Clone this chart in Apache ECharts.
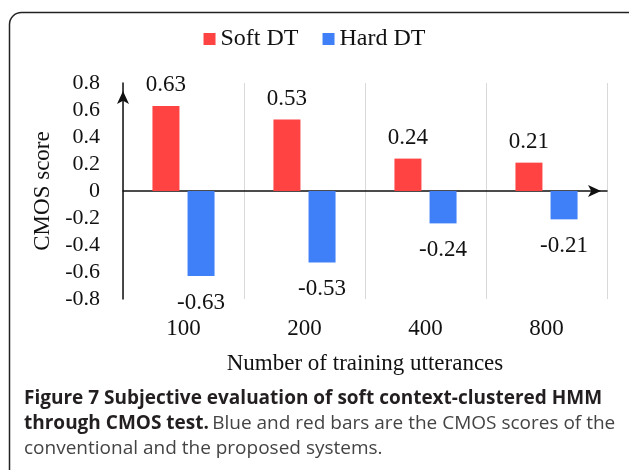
<!DOCTYPE html>
<html>
<head>
<meta charset="utf-8">
<script src="https://cdn.jsdelivr.net/npm/echarts@6/dist/echarts.min.js"></script>
<style>
  html, body { margin: 0; padding: 0; background: #fff; }
  #chart { width: 629px; height: 470px; }
</style>
</head>
<body>
<div id="chart"></div>
<script>
const categories = ['100', '200', '400', '800']
const softDT = [0.63, 0.53, 0.24, 0.21]
const hardDT = [-0.63, -0.53, -0.24, -0.21]
const captionLines = [
  'Figure 7 Subjective evaluation of soft context-clustered HMM',
  'through CMOS test.',
  'Blue and red bars are the CMOS scores of the',
  'conventional and the proposed systems.'
]

const serif = 'Liberation Serif'
const sans = 'Open Sans'
const ink = '#111'

const chart = echarts.init(document.getElementById('chart'))
chart.setOption({
  animation: false,
  grid: { left: 123, right: 22, top: 83, bottom: 171 },
  legend: {
    top: 22,
    left: 'center',
    icon: 'rect',
    itemWidth: 12,
    itemHeight: 12,
    itemGap: 24,
    textStyle: { fontFamily: serif, fontSize: 24, color: ink },
    data: ['Soft DT', 'Hard DT']
  },
  xAxis: [{
    type: 'category',
    data: categories,
    axisLine: { show: false, onZero: false },
    axisTick: { show: false },
    axisLabel: { margin: 18, fontFamily: serif, fontSize: 23, color: ink },
    splitLine: { show: true, lineStyle: { color: '#d9d9d9', width: 1 } },
    name: 'Number of training utterances',
    nameLocation: 'middle',
    nameGap: 53,
    nameTextStyle: { fontFamily: serif, fontSize: 23, color: ink }
  }, {
    // zero line with arrow, no labels
    type: 'category',
    data: categories,
    position: 'bottom',
    axisLine: {
      onZero: true,
      symbol: ['none', 'arrow'],
      symbolSize: [9, 13],
      symbolOffset: [0, -6],
      lineStyle: { color: ink, width: 1.5 }
    },
    axisTick: { show: false },
    axisLabel: { show: false },
    splitLine: { show: false }
  }],
  yAxis: {
    type: 'value',
    min: -0.8,
    max: 0.8,
    interval: 0.2,
    axisLine: {
      show: true,
      onZero: false,
      symbol: ['none', 'arrow'],
      symbolSize: [9, 13],
      symbolOffset: [0, -8],
      lineStyle: { color: ink, width: 1.5 }
    },
    axisTick: { show: false },
    splitLine: { show: false },
    axisLabel: { margin: 23, fontFamily: serif, fontSize: 22, color: ink },
    name: 'CMOS score',
    nameLocation: 'middle',
    nameGap: 63,
    nameTextStyle: { fontFamily: serif, fontSize: 23, color: ink }
  },
  series: [{
    name: 'Soft DT',
    type: 'bar',
    data: softDT,
    barWidth: 27,
    barGap: '30%',
    itemStyle: { color: '#ff4343' },
    label: {
      show: true, position: 'top', distance: 9,
      fontFamily: serif, fontSize: 23, color: ink
    }
  }, {
    name: 'Hard DT',
    type: 'bar',
    data: hardDT,
    barWidth: 27,
    itemStyle: { color: '#3f80f8' },
    label: {
      show: true, position: 'bottom', distance: 15,
      fontFamily: serif, fontSize: 23, color: ink
    }
  }],
  graphic: [{
    type: 'rect',
    z: -1,
    shape: { x: 9.5, y: 12.5, width: 640, height: 480, r: 12 },
    style: { fill: 'none', stroke: '#222', lineWidth: 1.5 }
  }, {
    type: 'text',
    left: 24,
    top: 389,
    style: {
      text: captionLines[0],
      font: 'bold 19px "Open Sans"',
      fill: '#231f20'
    }
  }, {
    type: 'text',
    left: 24,
    top: 414,
    style: {
      text: '{b|' + captionLines[1] + '} {n|' + captionLines[2] + '}',
      rich: {
        b: { fontFamily: sans, fontWeight: 'bold', fontSize: 19, fill: '#231f20' },
        n: { fontFamily: sans, fontSize: 19, fill: '#444' }
      }
    }
  }, {
    type: 'text',
    left: 24,
    top: 439,
    style: {
      text: captionLines[3],
      font: '19px "Open Sans"',
      fill: '#444'
    }
  }]
})
</script>
</body>
</html>
